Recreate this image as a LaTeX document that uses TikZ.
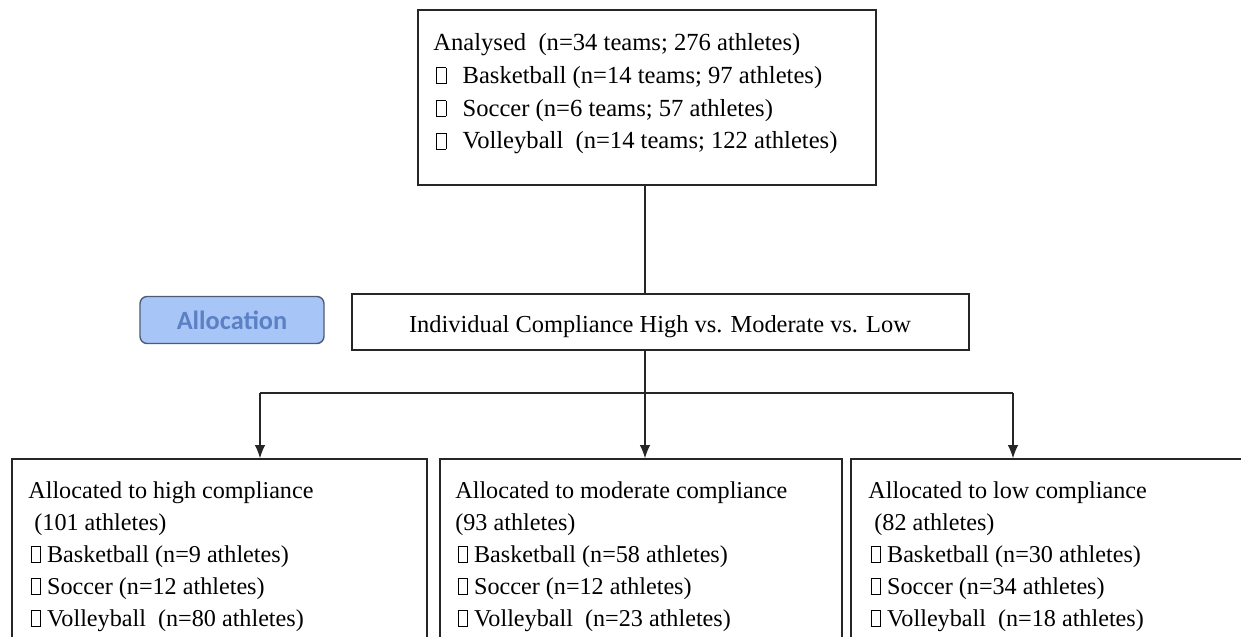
\documentclass[tikz,border=0pt]{standalone}
\usepackage{fontspec}
\setmainfont{Liberation Serif}
\newfontfamily\allocfont{Carlito}
\usetikzlibrary{arrows.meta}
\definecolor{allocfill}{HTML}{A8C5F7}
\definecolor{allocdraw}{HTML}{4F5B73}
\definecolor{alloctext}{HTML}{5B80C4}
\newcommand{\missbox}{{\hspace{1.5pt}\setlength{\fboxsep}{0pt}\setlength{\fboxrule}{0.4pt}\fbox{\rule{0pt}{0.62em}\hspace{0.36em}}}}

\begin{document}
\begin{tikzpicture}[x=0.02cm,y=-0.02cm,
    box/.style={draw=black!85,line width=0.8pt,inner sep=0pt},
    toptxt/.style={anchor=north west,inner sep=0pt,align=left,font=\fontsize{14}{18.7}\selectfont},
    lowtxt/.style={anchor=north west,inner sep=0pt,align=left,font=\fontsize{13.75}{18.2}\selectfont},
    link/.style={draw=black!85,line width=0.8pt},
    arr/.style={draw=black!85,line width=0.8pt,-{Latex[length=7.5pt,width=6pt]}}]
  \useasboundingbox (0,0) rectangle (1241,636);
  \clip (0,0) rectangle (1241,636);

  % boxes
  \node[box,minimum width=9.16cm,minimum height=3.5cm] (analysed) at (647,97.5) {};
  \node[box,minimum width=12.34cm,minimum height=1.12cm] (compliance) at (660.5,322) {};
  \node[draw=allocdraw,fill=allocfill,line width=0.8pt,rounded corners=4pt,minimum width=3.68cm,minimum height=0.94cm,
        text=alloctext,font=\allocfont\bfseries\fontsize{15}{18}\selectfont] (allocation) at (232,320) {Allocation};
  \node[box,minimum width=8.3cm,minimum height=4.8cm] (high) at (219.5,579) {};
  \node[box,minimum width=8.04cm,minimum height=4.8cm] (moderate) at (641,579) {};
  \node[box,minimum width=9cm,minimum height=4.8cm] (low) at (1076,579) {};

  % texts
  \node[toptxt] (analysedtxt) at (433,33) {Analysed\ \ (n=34 teams; 276 athletes)\\
    \missbox\ \ \,Basketball (n=14 teams; 97 athletes)\\
    \missbox\ \ \,Soccer (n=6 teams; 57 athletes)\\
    \missbox\ \ \,Volleyball\ \ (n=14 teams; 122 athletes)};
  \node[anchor=base,inner sep=0pt,font=\fontsize{13.9}{15}\selectfont] (compliancetxt) at (660,332)
    {Individual Compliance High vs. Moderate vs. Low};
  \node[lowtxt] (hightxt) at (28,481) {Allocated to high compliance\\
    \ (101 athletes)\\
    \missbox\ Basketball (n=9 athletes)\\
    \missbox\ Soccer (n=12 athletes)\\
    \missbox\ Volleyball\ \ (n=80 athletes)};
  \node[lowtxt] (moderatetxt) at (455,481) {Allocated to moderate compliance\\
    (93 athletes)\\
    \missbox\ Basketball (n=58 athletes)\\
    \missbox\ Soccer (n=12 athletes)\\
    \missbox\ Volleyball\ \ (n=23 athletes)};
  \node[lowtxt] (lowtxt) at (868,481) {Allocated to low compliance\\
    \ (82 athletes)\\
    \missbox\ Basketball (n=30 athletes)\\
    \missbox\ Soccer (n=34 athletes)\\
    \missbox\ Volleyball\ \ (n=18 athletes)};

  % connectors
  \coordinate (split) at (645,393);
  \coordinate (tohigh) at (260,393);
  \coordinate (tolow) at (1013,393);
  \draw[link] (analysed.south -| split) -- (compliance.north -| split);
  \draw[link] (compliance.south -| split) -- (split);
  \draw[link] (tohigh) -- (tolow);
  \draw[arr] (tohigh) -- (tohigh |- high.north);
  \draw[arr] (split) -- (split |- moderate.north);
  \draw[arr] (tolow) -- (tolow |- low.north);
\end{tikzpicture}
\end{document}
